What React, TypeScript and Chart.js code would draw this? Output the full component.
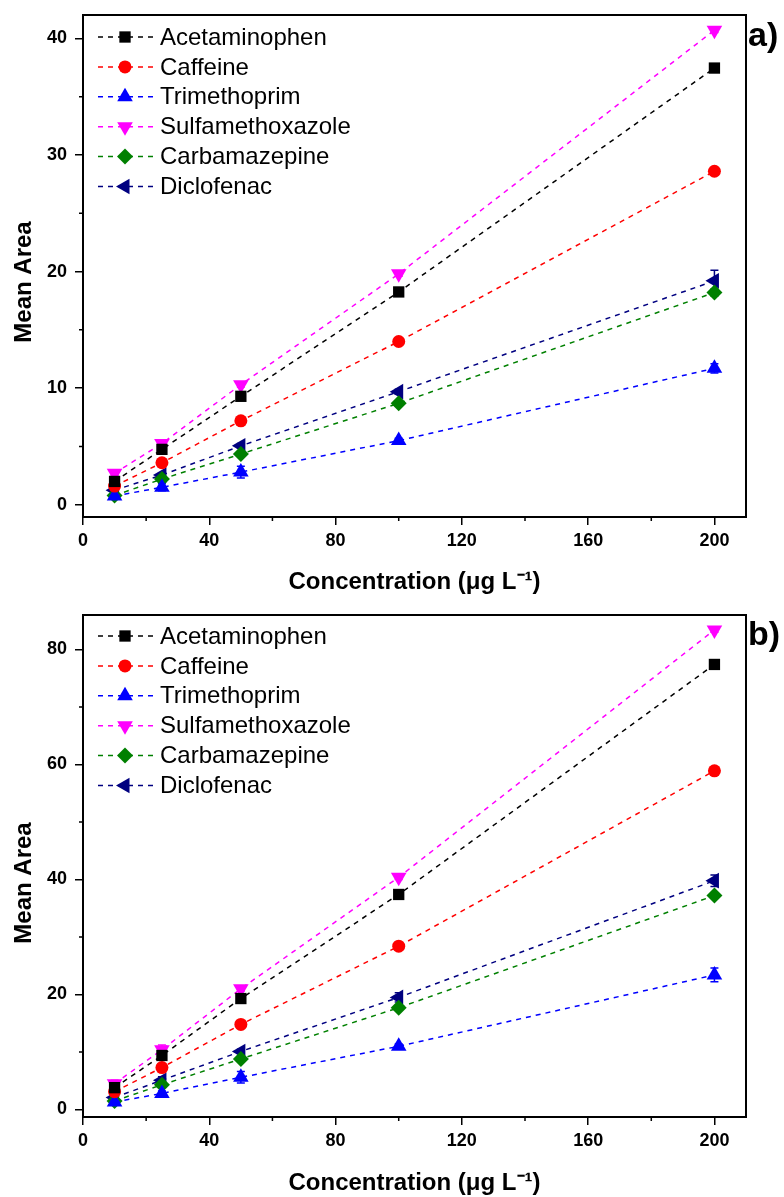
import React, { useEffect, useRef } from 'react';
import { Chart, registerables } from 'chart.js';
Chart.register(...registerables);

const FONT = '"Liberation Sans", Arial, Helvetica, sans-serif';

// ---- data ----
const concentrations = [10, 25, 50, 100, 200];
const seriesNames = ['Acetaminophen', 'Caffeine', 'Trimethoprim', 'Sulfamethoxazole', 'Carbamazepine', 'Diclofenac'];
const seriesColors = ['#000000', '#ff0000', '#0000ff', '#ff00ff', '#008000', '#000080'];
const pointStyles = ['rect', 'circle', 'triangle', 'triangle', 'rectRot', 'triangle'];
const pointRotations = [0, 0, 0, 180, 0, 270];
const pointRadii = [8, 6.5, 9, 9, 8, 9];

// panel a)
const acetaminophenA = [2.0, 4.75, 9.3, 18.25, 37.45];
const caffeineA = [1.6, 3.6, 7.2, 14.0, 28.6];
const trimethoprimA = [0.75, 1.5, 2.8, 5.5, 11.7];
const sulfamethoxazoleA = [2.7, 5.25, 10.3, 19.8, 40.7];
const carbamazepineA = [0.8, 2.2, 4.35, 8.7, 18.2];
const diclofenacA = [1.25, 2.55, 5.05, 9.7, 19.2];
const errAcetaminophenA = [0.3, 0.2, 0.2, 0.2, 0.2];
const errCaffeineA = [0.2, 0.2, 0.2, 0.2, 0.2];
const errTrimethoprimA = [0.2, 0.3, 0.5, 0.2, 0.4];
const errSulfamethoxazoleA = [0.2, 0.2, 0.2, 0.2, 0.2];
const errCarbamazepineA = [0.2, 0.2, 0.2, 0.2, 0.3];
const errDiclofenacA = [0.2, 0.2, 0.2, 0.2, 0.9];

// panel b)
const acetaminophenB = [3.8, 9.4, 19.3, 37.4, 77.4];
const caffeineB = [3.1, 7.3, 14.8, 28.4, 58.9];
const trimethoprimB = [1.3, 2.8, 5.6, 11.0, 23.4];
const sulfamethoxazoleB = [4.5, 10.4, 21.0, 40.4, 83.4];
const carbamazepineB = [1.5, 4.3, 8.8, 17.7, 37.2];
const diclofenacB = [2.1, 5.1, 10.1, 19.5, 39.8];
const errAcetaminophenB = [0.6, 0.4, 0.4, 0.4, 0.4];
const errCaffeineB = [0.4, 0.4, 0.4, 0.4, 0.4];
const errTrimethoprimB = [0.4, 0.4, 1.0, 0.4, 1.2];
const errSulfamethoxazoleB = [0.6, 0.8, 0.4, 0.4, 0.4];
const errCarbamazepineB = [0.6, 0.4, 0.4, 0.4, 0.4];
const errDiclofenacB = [0.6, 0.6, 0.4, 0.8, 1.0];

const xTickValues = [0, 40, 80, 120, 160, 200];
const xMinorValues = [20, 60, 100, 140, 180];
const yTickValuesA = [0, 10, 20, 30, 40];
const yMinorValuesA = [5, 15, 25, 35];
const yTickValuesB = [0, 20, 40, 60, 80];
const yMinorValuesB = [10, 30, 50, 70];

const xTitle = 'Concentration (\u03bcg L\u207b\u00b9)';
const yTitle = 'Mean Area';

function drawMarker(ctx: CanvasRenderingContext2D, style: string, x: number, y: number, r: number, rot: number) {
  ctx.save();
  ctx.translate(x, y);
  ctx.rotate((rot * Math.PI) / 180);
  ctx.beginPath();
  if (style === 'rect') {
    const s = Math.SQRT1_2 * r;
    ctx.rect(-s, -s, 2 * s, 2 * s);
  } else if (style === 'circle') {
    ctx.arc(0, 0, r, 0, Math.PI * 2);
  } else if (style === 'triangle') {
    ctx.moveTo(0, -r);
    ctx.lineTo(r * Math.sin(Math.PI / 3), r * 0.5);
    ctx.lineTo(-r * Math.sin(Math.PI / 3), r * 0.5);
    ctx.closePath();
  } else if (style === 'rectRot') {
    ctx.moveTo(0, -r);
    ctx.lineTo(r, 0);
    ctx.lineTo(0, r);
    ctx.lineTo(-r, 0);
    ctx.closePath();
  }
  ctx.fill();
  ctx.restore();
}

function makeDecorPlugin(opts: any) {
  return {
    id: 'decor',
    beforeDatasetsDraw(chart: any) {
      const ctx = chart.ctx;
      const xs = chart.scales.x;
      const ys = chart.scales.y;
      ctx.save();
      opts.errors.forEach((errs: number[], si: number) => {
        const vals = opts.values[si];
        ctx.strokeStyle = seriesColors[si];
        ctx.lineWidth = 1.5;
        ctx.setLineDash([]);
        errs.forEach((e: number, i: number) => {
          const px = xs.getPixelForValue(concentrations[i]);
          const top = ys.getPixelForValue(vals[i] + e);
          const bot = ys.getPixelForValue(vals[i] - e);
          ctx.beginPath();
          ctx.moveTo(px, top);
          ctx.lineTo(px, bot);
          ctx.moveTo(px - 4, top);
          ctx.lineTo(px + 4, top);
          ctx.moveTo(px - 4, bot);
          ctx.lineTo(px + 4, bot);
          ctx.stroke();
        });
      });
      ctx.restore();
    },
    afterDraw(chart: any) {
      const ctx = chart.ctx;
      const a = chart.chartArea;
      const xs = chart.scales.x;
      const ys = chart.scales.y;
      ctx.save();
      // frame
      ctx.setLineDash([]);
      ctx.strokeStyle = '#000';
      ctx.lineWidth = 2;
      ctx.strokeRect(a.left, a.top, a.right - a.left, a.bottom - a.top);
      // minor ticks
      ctx.lineWidth = 1.5;
      ctx.beginPath();
      xMinorValues.forEach((v) => {
        const px = xs.getPixelForValue(v);
        ctx.moveTo(px, a.bottom);
        ctx.lineTo(px, a.bottom + 4);
      });
      opts.yMinor.forEach((v: number) => {
        const py = ys.getPixelForValue(v);
        ctx.moveTo(a.left, py);
        ctx.lineTo(a.left - 4, py);
      });
      ctx.stroke();
      // legend
      ctx.font = '24px ' + FONT;
      ctx.textBaseline = 'middle';
      ctx.textAlign = 'left';
      seriesNames.forEach((name, i) => {
        const cy = opts.legendTop + i * 29.9;
        ctx.strokeStyle = seriesColors[i];
        ctx.fillStyle = seriesColors[i];
        ctx.lineWidth = 1.5;
        ctx.setLineDash([5, 5]);
        ctx.beginPath();
        ctx.moveTo(98, cy);
        ctx.lineTo(153, cy);
        ctx.stroke();
        ctx.setLineDash([]);
        drawMarker(ctx, pointStyles[i], 125, cy, pointRadii[i], pointRotations[i]);
        ctx.fillStyle = '#000';
        ctx.fillText(name, 160, cy + 1);
      });
      // axis titles
      ctx.fillStyle = '#000';
      ctx.font = 'bold 24px ' + FONT;
      ctx.textAlign = 'center';
      ctx.textBaseline = 'middle';
      ctx.fillText(xTitle, (a.left + a.right) / 2, opts.xTitleY);
      ctx.save();
      ctx.translate(24, opts.yTitleY);
      ctx.rotate(-Math.PI / 2);
      ctx.fillText(yTitle, 0, 0);
      ctx.restore();
      // panel label
      ctx.font = 'bold 34px ' + FONT;
      ctx.textAlign = 'left';
      ctx.fillText(opts.panel, 748, opts.panelY);
      ctx.restore();
    },
  };
}

function PanelChart(props: any) {
  const ref = useRef<HTMLCanvasElement>(null);
  useEffect(() => {
    const values = props.values as number[][];
    const chart = new Chart(ref.current as HTMLCanvasElement, {
      type: 'line',
      data: {
        datasets: seriesNames.map((name, i) => ({
          label: name,
          data: concentrations.map((c, j) => ({ x: c, y: values[i][j] })),
          borderColor: seriesColors[i],
          backgroundColor: seriesColors[i],
          borderWidth: 1.5,
          borderDash: [5, 5],
          pointStyle: pointStyles[i] as any,
          pointRotation: pointRotations[i],
          pointRadius: pointRadii[i],
          pointBorderWidth: 0,
          pointBackgroundColor: seriesColors[i],
          pointBorderColor: seriesColors[i],
          tension: 0,
          fill: false,
        })),
      },
      options: {
        animation: false,
        responsive: false,
        devicePixelRatio: 1,
        layout: { padding: { left: 0, right: 38, top: props.padTop, bottom: 0 } },
        plugins: { legend: { display: false }, tooltip: { enabled: false } },
        scales: {
          x: {
            type: 'linear',
            min: 0,
            max: 210,
            afterBuildTicks: (s: any) => {
              s.ticks = xTickValues.map((v) => ({ value: v }));
            },
            afterFit: (s: any) => {
              s.height = props.xAxisH;
              s.paddingLeft = 0;
              s.paddingRight = 0;
            },
            border: { display: false },
            grid: { drawOnChartArea: false, drawTicks: true, tickLength: 8, color: '#000', lineWidth: 1.5 },
            ticks: { color: '#000', font: { family: FONT, size: 18, weight: 'bold' }, padding: 5, maxRotation: 0 },
          },
          y: {
            type: 'linear',
            min: props.yMin,
            max: props.yMax,
            afterBuildTicks: (s: any) => {
              s.ticks = props.yTicks.map((v: number) => ({ value: v }));
            },
            afterFit: (s: any) => {
              s.width = 83;
              s.paddingTop = 0;
              s.paddingBottom = 0;
            },
            border: { display: false },
            grid: { drawOnChartArea: false, drawTicks: true, tickLength: 8, color: '#000', lineWidth: 1.5 },
            ticks: { color: '#000', font: { family: FONT, size: 18, weight: 'bold' }, padding: 8 },
          },
        },
      } as any,
      plugins: [
        makeDecorPlugin({
          values,
          errors: props.errors,
          yMinor: props.yMinor,
          legendTop: props.legendTop,
          xTitleY: props.xTitleY,
          yTitleY: props.yTitleY,
          panel: props.panel,
          panelY: props.panelY,
        }),
      ],
    });
    return () => chart.destroy();
  }, []);
  return (
    <canvas
      ref={ref}
      width={784}
      height={props.height}
      style={{ position: 'absolute', left: 0, top: props.top, width: 784, height: props.height }}
    />
  );
}

export default function App() {
  return (
    <div style={{ position: 'absolute', left: 0, top: 0, width: 784, height: 1197, background: '#fff' }}>
      <PanelChart
        top={0}
        height={598}
        padTop={15}
        xAxisH={81}
        yMin={-1.05}
        yMax={42}
        yTicks={yTickValuesA}
        yMinor={yMinorValuesA}
        values={[acetaminophenA, caffeineA, trimethoprimA, sulfamethoxazoleA, carbamazepineA, diclofenacA]}
        errors={[errAcetaminophenA, errCaffeineA, errTrimethoprimA, errSulfamethoxazoleA, errCarbamazepineA, errDiclofenacA]}
        legendTop={37}
        xTitleY={582}
        yTitleY={282}
        panel="a)"
        panelY={37}
      />
      <PanelChart
        top={598}
        height={599}
        padTop={17}
        xAxisH={80}
        yMin={-1.3}
        yMax={86}
        yTicks={yTickValuesB}
        yMinor={yMinorValuesB}
        values={[acetaminophenB, caffeineB, trimethoprimB, sulfamethoxazoleB, carbamazepineB, diclofenacB]}
        errors={[errAcetaminophenB, errCaffeineB, errTrimethoprimB, errSulfamethoxazoleB, errCarbamazepineB, errDiclofenacB]}
        legendTop={38}
        xTitleY={585}
        yTitleY={285}
        panel="b)"
        panelY={38}
      />
    </div>
  );
}
